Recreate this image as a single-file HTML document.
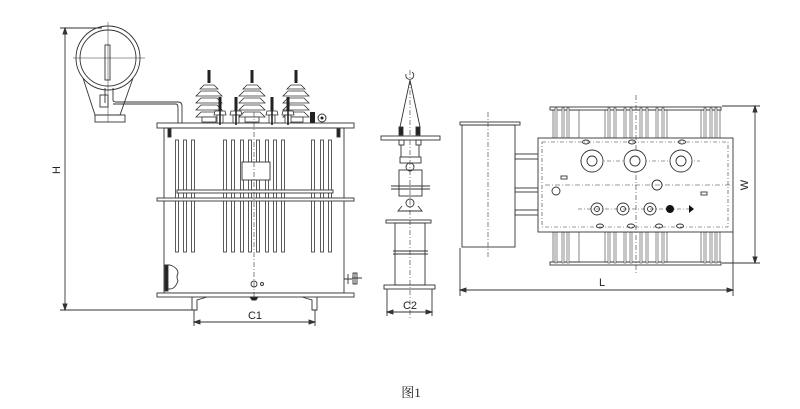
<!DOCTYPE html>
<html><head><meta charset="utf-8"><style>
html,body{margin:0;padding:0;background:#fff;width:800px;height:409px;overflow:hidden}
svg{display:block}
text{font-family:"Liberation Sans",sans-serif;fill:#222}
</style></head><body>
<svg width="800" height="409" viewBox="0 0 800 409" xmlns="http://www.w3.org/2000/svg">
<defs>
<g id="hv">
 <rect x="-1.5" y="0" width="3" height="13" fill="#222"/>
 <path d="M-5 15 H5 L9 19 H-9Z M-8 21 H8 L13 26 H-13Z M-8 28 H8 L13 33 H-13Z M-8 35 H8 L13 40 H-13Z M-8 42 H8 L13 47 H-13Z" fill="#fff" stroke="#333" stroke-width="0.8"/>
 <rect x="-7" y="47" width="14" height="5" fill="#fff" stroke="#333" stroke-width="0.8"/>
</g>
<g id="lv">
 <rect x="-1.5" y="0" width="3" height="14" fill="#222"/>
 <path d="M-5 14 H5 L6 18 H-6Z" fill="#fff" stroke="#333" stroke-width="0.8"/>
 <rect x="-3" y="18" width="6" height="8" fill="#fff" stroke="#333" stroke-width="0.8"/>
 <rect x="-0.8" y="14" width="1.6" height="14" fill="#222"/>
</g>
<g id="fin"><rect x="-1.5" y="140" width="3" height="112" fill="#fff" stroke="#333" stroke-width="0.8"/></g>
<g id="sfin"><rect x="-1" y="0" width="2" height="31" fill="#fff" stroke="#444" stroke-width="0.6"/></g>
</defs>
<g stroke="#333" stroke-width="0.9" fill="none">
<line x1="60" y1="28" x2="102" y2="28"/>
<line x1="60" y1="310" x2="196" y2="310"/>
<line x1="65" y1="30" x2="65" y2="308"/>
<path d="M65 28 l-2 6 h4z M65 310 l-2 -6 h4z" fill="#333"/>
<circle cx="108" cy="58" r="32"/>
<circle cx="108" cy="58" r="28"/>
<line x1="73" y1="58" x2="145" y2="58" stroke-width="0.5"/>
<line x1="108" y1="22" x2="108" y2="122" stroke-width="0.5"/>
<rect x="105" y="45" width="5" height="35"/>
<path d="M83 78 L95 115 H120 L133 78"/>
<rect x="95" y="115" width="30" height="7"/>
<path d="M105 88 V103 M113 88 V100 Q113 102 116 102 H178 Q182 102 182 106 V123 M113 104 H176 Q178 104 178 108 V123"/>
<rect x="100" y="95" width="8" height="12"/>
<rect x="157" y="123" width="197" height="5" fill="#fff"/>
<rect x="164" y="128" width="180" height="165"/>
<rect x="157" y="293" width="197" height="4" fill="#fff"/>
<rect x="168" y="129" width="3" height="8" fill="#222"/>
<rect x="337" y="129" width="3" height="8" fill="#222"/>
</g>
<use href="#hv" x="209" y="70"/><use href="#hv" x="252" y="70"/><use href="#hv" x="296" y="70"/>
<use href="#lv" x="220" y="97"/><use href="#lv" x="236" y="97"/><use href="#lv" x="272" y="97"/><use href="#lv" x="288" y="97"/>
<rect x="310" y="112" width="5" height="11" fill="#222"/>
<circle cx="322" cy="118" r="4" fill="#fff" stroke="#333"/><circle cx="322" cy="118" r="1.5" fill="#222"/>
<use href="#fin" x="177"/><use href="#fin" x="185"/><use href="#fin" x="193"/>
<use href="#fin" x="225"/><use href="#fin" x="233"/><use href="#fin" x="242"/><use href="#fin" x="250"/><use href="#fin" x="258"/><use href="#fin" x="267"/><use href="#fin" x="275"/><use href="#fin" x="283"/>
<use href="#fin" x="313"/><use href="#fin" x="322"/><use href="#fin" x="330"/>
<g stroke="#333" stroke-width="0.9" fill="none">
<rect x="177" y="190" width="156" height="3" fill="#fff"/>
<rect x="157" y="198" width="197" height="3" fill="#fff"/>
<rect x="242" y="162" width="28" height="18" fill="#fff"/>
<line x1="254" y1="112" x2="254" y2="300" stroke-dasharray="5 2 1 2" stroke-width="0.6"/>
<path d="M165 265 h5 q8 3 8 8 q-2 4 0 8 q-3 8 -8 8 h-5z" fill="#fff"/>
<rect x="165" y="265" width="3" height="26" fill="#222"/>
<circle cx="254" cy="284" r="3"/><circle cx="262" cy="284" r="1.5"/>
<path d="M250 297 h8 l-2 3 h-4z" fill="#222"/>
<path d="M344 279 h8 M348 274 v10 M352 278 h10 M355 273 v11" />
<rect x="353" y="273" width="4" height="11"/>
<path d="M192 297 v13 h5 v-10 l10 -3 M317 297 v13 h-5 v-10 l-10 -3"/>
<line x1="194" y1="310" x2="194" y2="326"/><line x1="315" y1="310" x2="315" y2="326"/>
<line x1="196" y1="322" x2="313" y2="322"/>
<path d="M194 322 l6 -2 v4z M315 322 l-6 -2 v4z" fill="#333"/>
</g>
<text x="57" y="170" font-size="11" transform="rotate(-90 57 170)" text-anchor="middle" dominant-baseline="middle">H</text>
<text x="255" y="319" font-size="11" text-anchor="middle">C1</text>
<g stroke="#333" stroke-width="0.9" fill="none">
<path d="M406 74 a4 4 0 1 0 6 -2"/>
<path d="M410 80 L400 127 M410 80 L420 127"/>
<line x1="410" y1="70" x2="410" y2="318" stroke-dasharray="5 2 1 2" stroke-width="0.6"/>
<rect x="399" y="127" width="4" height="8" fill="#222"/><rect x="416" y="127" width="4" height="8" fill="#222"/>
<rect x="381" y="136" width="59" height="4" fill="#fff"/>
<rect x="399" y="140" width="5" height="5"/><rect x="416" y="140" width="5" height="5"/>
<path d="M401 145 V157 M419 145 V157"/>
<rect x="400" y="157" width="21" height="6"/>
<circle cx="410" cy="167" r="4"/>
<rect x="399" y="170" width="23" height="26"/>
<path d="M391 186 H430 M391 189 H430"/>
<circle cx="410" cy="203" r="4"/>
<path d="M402 206 L398 211 H422 L418 206"/>
<rect x="386" y="220" width="45" height="3"/>
<rect x="395" y="223" width="30" height="62"/>
<path d="M393 251 H428 M393 254 H428"/>
<rect x="384" y="285" width="51" height="4"/>
<line x1="387" y1="289" x2="387" y2="316"/><line x1="432" y1="289" x2="432" y2="316"/>
<line x1="389" y1="312" x2="430" y2="312"/>
<path d="M387 312 l6 -2 v4z M432 312 l-6 -2 v4z" fill="#333"/>
</g>
<text x="410" y="309" font-size="11" text-anchor="middle">C2</text>
<g stroke="#333" stroke-width="0.9" fill="none">
<rect x="460" y="122" width="60" height="3"/>
<rect x="462" y="125" width="53" height="122"/>
<line x1="488" y1="112" x2="488" y2="258" stroke-dasharray="5 2 1 2" stroke-width="0.6"/>
<rect x="515" y="154" width="55" height="5"/><rect x="515" y="188" width="40" height="4"/><rect x="515" y="210" width="55" height="5"/>
<rect x="550" y="107" width="171" height="3"/>
<rect x="550" y="262" width="171" height="3"/>
<rect x="553" y="110" width="26" height="28" stroke-width="0.6"/><rect x="605" y="110" width="62" height="28" stroke-width="0.6"/><rect x="701" y="110" width="19" height="28" stroke-width="0.6"/>
<rect x="553" y="232" width="26" height="30" stroke-width="0.6"/><rect x="605" y="232" width="62" height="30" stroke-width="0.6"/><rect x="701" y="232" width="19" height="30" stroke-width="0.6"/>
</g>
<g>
<use href="#sfin" x="556" y="108"/><use href="#sfin" x="563" y="108"/><use href="#sfin" x="568" y="108"/>
<use href="#sfin" x="609" y="108"/><use href="#sfin" x="615" y="108"/><use href="#sfin" x="625" y="108"/><use href="#sfin" x="631" y="108"/><use href="#sfin" x="641" y="108"/><use href="#sfin" x="647" y="108"/><use href="#sfin" x="657" y="108"/><use href="#sfin" x="663" y="108"/>
<use href="#sfin" x="705" y="108"/><use href="#sfin" x="711" y="108"/><use href="#sfin" x="716" y="108"/>
<use href="#sfin" x="556" y="232"/><use href="#sfin" x="563" y="232"/><use href="#sfin" x="568" y="232"/>
<use href="#sfin" x="609" y="232"/><use href="#sfin" x="615" y="232"/><use href="#sfin" x="625" y="232"/><use href="#sfin" x="631" y="232"/><use href="#sfin" x="641" y="232"/><use href="#sfin" x="647" y="232"/><use href="#sfin" x="657" y="232"/><use href="#sfin" x="663" y="232"/>
<use href="#sfin" x="705" y="232"/><use href="#sfin" x="711" y="232"/><use href="#sfin" x="716" y="232"/>
</g>
<g stroke="#333" stroke-width="0.9" fill="none">
<rect x="538" y="138" width="195" height="94" fill="#fff"/>
<rect x="542" y="142" width="186" height="85" stroke-dasharray="4 2 1 2" stroke-width="0.6"/>
<line x1="636" y1="95" x2="636" y2="275" stroke-dasharray="5 2 1 2" stroke-width="0.6"/>
<line x1="545" y1="185" x2="730" y2="185" stroke-dasharray="5 2 1 2" stroke-width="0.6"/>
<line x1="580" y1="161" x2="700" y2="161" stroke-dasharray="4 2 1 2" stroke-width="0.6"/>
<line x1="578" y1="209" x2="690" y2="209" stroke-dasharray="4 2 1 2" stroke-width="0.6"/>
<circle cx="592" cy="161" r="11" fill="#fff"/><circle cx="592" cy="161" r="5"/>
<circle cx="635" cy="161" r="11" fill="#fff"/><circle cx="635" cy="161" r="5"/>
<circle cx="681" cy="161" r="11" fill="#fff"/><circle cx="681" cy="161" r="5"/>
<circle cx="597" cy="209" r="6"/><circle cx="597" cy="209" r="2.5"/>
<circle cx="623" cy="209" r="6"/><circle cx="623" cy="209" r="2.5"/>
<circle cx="650" cy="209" r="6"/><circle cx="650" cy="209" r="2.5"/>
<circle cx="657" cy="185" r="5"/>
<circle cx="556" cy="191" r="4"/>
<rect x="561" y="176" width="6" height="3"/><rect x="701" y="192" width="6" height="3"/>
<ellipse cx="586" cy="142" rx="3.5" ry="2"/><ellipse cx="632" cy="142" rx="3.5" ry="2"/><ellipse cx="682" cy="142" rx="3.5" ry="2"/>
<ellipse cx="600" cy="226" rx="3.5" ry="2"/><ellipse cx="631" cy="226" rx="3.5" ry="2"/><ellipse cx="659" cy="226" rx="3.5" ry="2"/><ellipse cx="680" cy="226" rx="3.5" ry="2"/>
<line x1="722" y1="106" x2="760" y2="106"/><line x1="722" y1="263" x2="760" y2="263"/>
<line x1="755" y1="108" x2="755" y2="261"/>
<path d="M755 106 l-2 6 h4z M755 263 l-2 -6 h4z" fill="#333"/>
<line x1="460" y1="248" x2="460" y2="296"/><line x1="733" y1="232" x2="733" y2="296"/>
<line x1="462" y1="290" x2="731" y2="290"/>
<path d="M460 290 l6 -2 v4z M733 290 l-6 -2 v4z" fill="#333"/>
</g>
<circle cx="670" cy="209" r="4" fill="#111"/>
<path d="M689 205 l5 4 l-5 4z" fill="#111"/>
<text x="745" y="185" font-size="11" transform="rotate(-90 745 185)" text-anchor="middle" dominant-baseline="middle">W</text>
<text x="602" y="286" font-size="11" text-anchor="middle">L</text>
<text x="411" y="397" font-size="13" text-anchor="middle" style="font-family:'Liberation Serif','Noto Serif CJK SC',serif">图1</text>
</svg>
</body></html>
